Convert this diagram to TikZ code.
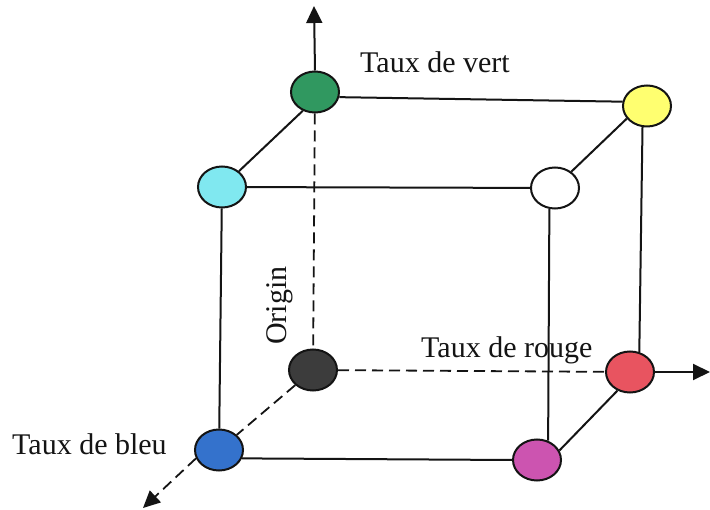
\documentclass[tikz,border=0pt]{standalone}
\usepackage{fontspec}
\setmainfont{Liberation Serif}
\usetikzlibrary{shapes.geometric,arrows.meta}

\definecolor{cgreen}{RGB}{48,152,96}
\definecolor{cyellow}{RGB}{255,255,112}
\definecolor{ccyan}{RGB}{128,232,240}
\definecolor{cblack}{RGB}{60,60,60}
\definecolor{cred}{RGB}{232,84,96}
\definecolor{cblue}{RGB}{52,114,204}
\definecolor{cmagenta}{RGB}{204,84,176}
\definecolor{ink}{RGB}{20,20,20}

\tikzset{
  corner/.style={ellipse, draw=ink, line width=2pt, minimum width=48pt, minimum height=41pt, inner sep=0pt},
  edge/.style={draw=ink, line width=2pt},
  hidden/.style={draw=ink, line width=1.8pt, dash pattern=on 11pt off 6pt},
  axis/.style={-{Triangle[length=17pt,width=16pt]}},
  caption/.style={font=\fontsize{30}{35}\selectfont, text=ink, inner sep=0pt},
}

\begin{document}
\begin{tikzpicture}[x=1pt,y=-1pt]
  \useasboundingbox (0,0) rectangle (710,510);
  \fill[white] (0,0) rectangle (710,510);

  % cube corners
  \node[corner, fill=cgreen]   (green)   at (315,92)  {};
  \node[corner, fill=cyellow]  (yellow)  at (647,106) {};
  \node[corner, fill=ccyan]    (cyan)    at (222,187) {};
  \node[corner, fill=white]    (white)   at (555,188) {};
  \node[corner, fill=cblack]   (black)   at (313,370) {};
  \node[corner, fill=cred]     (red)     at (630,372) {};
  \node[corner, fill=cblue]    (blue)    at (219,450) {};
  \node[corner, fill=cmagenta] (magenta) at (537,460) {};

  % free ends of the axes
  \coordinate (gtip) at (314,6);
  \coordinate (rtip) at (710,372);
  \coordinate (btip) at (143,508);

  % visible edges
  \draw[edge] (green.-12) -- (yellow.170);
  \draw[edge] (green.237) -- (cyan.43);
  \draw[edge] (yellow.212) -- (white.45);
  \draw[edge] (cyan) -- (white);
  \draw[edge] (yellow.258) -- (red.65);
  \draw[edge] (cyan) -- (blue);
  \draw[edge] (white.255) -- (magenta.60);
  \draw[edge] (blue.-20) -- (magenta.west);
  \draw[edge] (red.236) -- (magenta.23);

  % hidden edges from the origin
  \draw[hidden] (green) -- (black);
  \draw[hidden] (black) -- (red);
  \draw[hidden] (black) -- (blue);

  % axes
  \draw[edge, axis] (green.north) -- (gtip);
  \draw[edge, axis] (red.east) -- (rtip);
  \draw[hidden, axis] (blue.200) -- (btip);

  % labels
  \node[caption, anchor=base west] (lvert)  at (360,73)  {Taux de vert};
  \node[caption, anchor=base west] (lrouge) at (421,358) {Taux de rouge};
  \node[caption, anchor=base west] (lbleu)  at (12,455)  {Taux de bleu};
  \node[caption, anchor=base west, rotate=90] (lorig) at (286,345) {Origin};
\end{tikzpicture}
\end{document}
